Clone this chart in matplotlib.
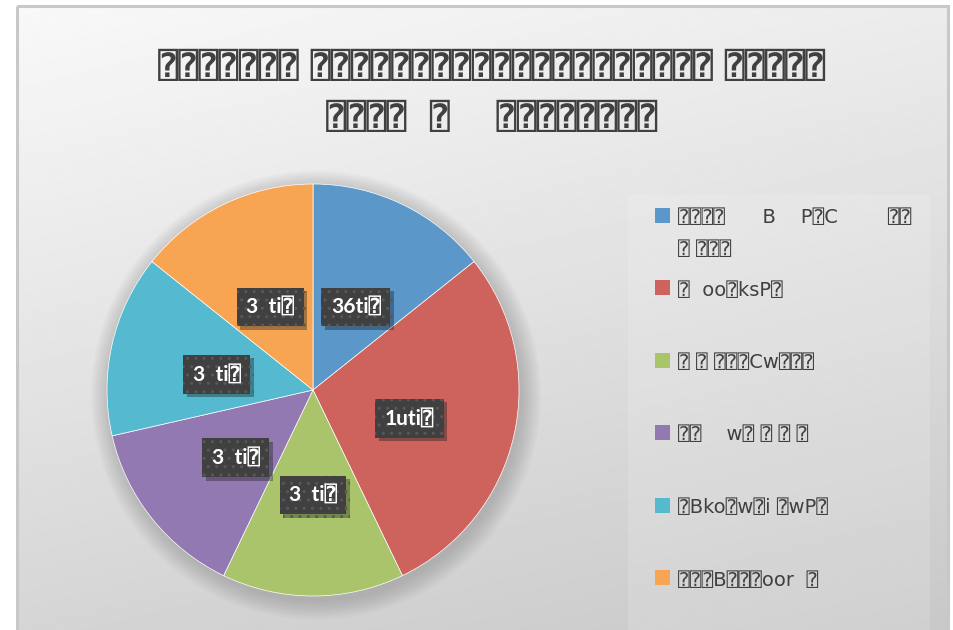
import matplotlib
matplotlib.use('Agg')
import matplotlib.pyplot as plt
import numpy as np
from matplotlib.patches import Rectangle
import matplotlib.patheffects as pe

# the source text shows as boxed question marks; keep them as the quad-question symbol
Q = '⍰'

title = (Q * 7 + ' ' + Q * 20 + ' ' + Q * 5 + '\n'
         + Q * 4 + '  ' + Q + '    ' + Q * 8)
categories = [
    Q * 4 + '      B    P' + Q + 'C        ' + Q * 2 + '\n' + Q + ' ' + Q * 3,
    Q + '  oo' + Q + 'ksP' + Q,
    Q + ' ' + Q + ' ' + Q * 3 + 'Cw' + Q * 3,
    Q * 2 + '    w' + Q + ' ' + Q + ' ' + Q + ' ' + Q,
    Q + 'Bko' + Q + 'w' + Q + 'i ' + Q + 'wP' + Q,
    Q * 3 + 'B' + Q * 3 + 'oor  ' + Q,
]
values = [1, 2, 1, 1, 1, 1]
value_labels = ['36ti' + Q, '1uti' + Q, '3  ti' + Q, '3  ti' + Q, '3  ti' + Q, '3  ti' + Q]
colors = ['#5b97c9', '#cd635c', '#a9c46a', '#9279b2', '#55b9cf', '#f7a553']

W, H = 954, 630
fig = plt.figure(figsize=(W / 100, H / 100), dpi=100)
fig.patch.set_facecolor('white')

# background panel with a soft gradient
bg = fig.add_axes([0, 0, 1, 1])
bg.set_xlim(0, W)
bg.set_ylim(H, 0)
bg.axis('off')
yy, xx = np.mgrid[0:H, 0:W]
shade = 0.975 - 0.14 * (yy / H) - 0.05 * (xx / W)
bg.imshow(shade, cmap='gray', vmin=0, vmax=1, extent=[18, 948, H, 6], zorder=0, aspect='auto')
bg.add_patch(Rectangle((17.5, 6), 931, 640, fill=False, ec='#c8c8c8', lw=2.2, zorder=1))
bg.add_patch(Rectangle((628, 195), 302, 440, fc='white', alpha=0.14, ec='none', zorder=1))

fig.text(492 / W, 1 - 93 / H, title, ha='center', va='center', fontsize=24,
         fontweight='bold', color='#404040', linespacing=1.7,
         family=['DejaVu Sans', 'DejaVu Sans Mono'])

# pie
cx, cy, r = 313, 390, 206
ax = fig.add_axes([(cx - r) / W, (H - cy - r) / H, 2 * r / W, 2 * r / H])
ax.set_facecolor('none')
for k in range(10):
    ax.add_patch(plt.Circle((0.015, -0.025), 1.0 + 0.01 * k, color='#707070',
                            alpha=0.04, lw=0, clip_on=False))
wedges, texts = ax.pie(values, colors=colors, startangle=90, counterclock=False,
                       labels=value_labels, labeldistance=0.48,
                       wedgeprops=dict(edgecolor='white', linewidth=0.5),
                       textprops=dict(color='white', fontsize=15, fontweight='bold',
                                      family=['Lato', 'DejaVu Sans Mono']))
for t in texts:
    x0, y0 = t.get_position()
    t.set_position((x0, y0 - 0.03))
    t.set_ha('center')
    t.set_va('center')
    t.set_bbox(dict(boxstyle='square,pad=0.45', fc='#404040', ec='#585858', lw=0, hatch='..'))
    t.get_bbox_patch().set_path_effects([pe.SimplePatchShadow(offset=(2.5, -2.5), alpha=0.35),
                                         pe.Normal()])
ax.set_xlim(-1, 1)
ax.set_ylim(-1, 1)
ax.set_aspect('equal')

# legend
for i, (lab, c) in enumerate(zip(categories, colors)):
    y = 215 + 72.5 * i
    bg.add_patch(Rectangle((655, y - 7.5), 15, 15, fc=c, ec='none', zorder=3))
    bg.text(678, y - 7, lab, ha='left', va='top', fontsize=14, color='#404040',
            linespacing=1.85, family=['DejaVu Sans', 'DejaVu Sans Mono'], zorder=3)

fig.savefig('out.png', dpi=100)
